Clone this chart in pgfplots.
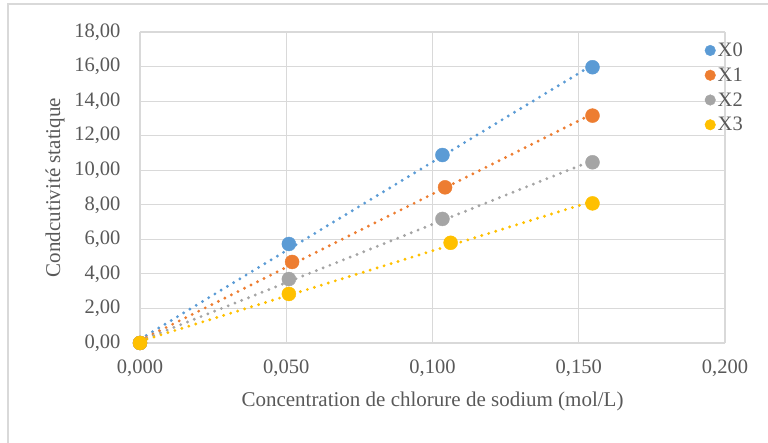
\documentclass[border=0pt]{standalone}
\usepackage{pgfplots}
\pgfplotsset{compat=1.18}
\usepackage{fontspec}
\setmainfont{Liberation Serif}
\definecolor{cblue}{HTML}{5B9BD5}
\definecolor{corange}{HTML}{ED7D31}
\definecolor{cgray}{HTML}{A5A5A5}
\definecolor{cyellow}{HTML}{FFC000}
\definecolor{gridc}{HTML}{D9D9D9}
\definecolor{textc}{HTML}{595959}
\begin{document}
\begin{tikzpicture}[x=1pt,y=1pt]
\useasboundingbox (-140,-100) rectangle (628,343);
\draw[gridc, line width=1.2pt] (-132,-100) -- (-132,339) -- (628,339);
\begin{axis}[
  at={(0,0)}, anchor=south west,
  scale only axis, width=585pt, height=311pt,
  xmin=0, xmax=0.2, ymin=0, ymax=18,
  xtick={0,0.05,0.1,0.15,0.2},
  ytick={0,2,...,18},
  grid=major,
  major grid style={gridc, line width=1.2pt},
  axis line style={draw=none},
  major tick length=0pt,
  tick label style={font=\fontsize{20.5}{23}\selectfont, text=textc},
  label style={font=\fontsize{21}{24}\selectfont, text=textc},
  x tick label style={
    /pgf/number format/fixed, /pgf/number format/fixed zerofill,
    /pgf/number format/precision=3, /pgf/number format/use comma,
    /pgf/number format/1000 sep={}, /pgf/number format/assume math mode=true,
    yshift=-13pt},
  y tick label style={
    /pgf/number format/fixed, /pgf/number format/fixed zerofill,
    /pgf/number format/precision=2, /pgf/number format/use comma,
    /pgf/number format/1000 sep={}, /pgf/number format/assume math mode=true,
    xshift=-16pt},
  scaled x ticks=false, scaled y ticks=false,
  xlabel={Concentration de chlorure de sodium (mol/L)},
  ylabel={Condcutivité statique},
  xlabel style={yshift=-9pt},
  ylabel style={yshift=3pt},
  clip=false,
  legend style={draw=none, fill=none, at={(rel axis cs:0.965,0.972)}, anchor=north west,
    font=\fontsize{20.5}{23}\selectfont, text=textc, row sep=5.7pt, inner sep=0pt},
  legend cell align=left,
  legend image code/.code={\fill[#1] (0.25em,0) circle (5.3pt);},
]
% trendlines
\addplot[forget plot, cblue, line width=3.2pt, line cap=round, dash pattern=on 0pt off 7.3pt] coordinates {(0,0.21) (0.1547,16.09)};
\addplot[forget plot, corange, line width=3.2pt, line cap=round, dash pattern=on 0pt off 7.3pt] coordinates {(0,0.14) (0.1547,13.26)};
\addplot[forget plot, cgray, line width=3.2pt, line cap=round, dash pattern=on 0pt off 7.3pt] coordinates {(0,0.12) (0.1547,10.56)};
\addplot[forget plot, cyellow, line width=3.2pt, line cap=round, dash pattern=on 0pt off 7.3pt] coordinates {(0,0.10) (0.1547,8.20)};
% data
\addplot[only marks, mark=*, mark size=7pt, cblue, mark options={draw=none, fill=cblue}] coordinates {(0,0) (0.0509,5.73) (0.1034,10.88) (0.1547,15.96)};
\addlegendentry{X0}
\addplot[only marks, mark=*, mark size=7pt, corange, mark options={draw=none, fill=corange}] coordinates {(0,0) (0.0520,4.69) (0.1043,9.01) (0.1547,13.16)};
\addlegendentry{X1}
\addplot[only marks, mark=*, mark size=7pt, cgray, mark options={draw=none, fill=cgray}] coordinates {(0,0) (0.0509,3.70) (0.1034,7.18) (0.1547,10.46)};
\addlegendentry{X2}
\addplot[only marks, mark=*, mark size=7pt, cyellow, mark options={draw=none, fill=cyellow}] coordinates {(0,0) (0.0509,2.84) (0.1062,5.80) (0.1547,8.08)};
\addlegendentry{X3}
\end{axis}
\end{tikzpicture}
\end{document}
